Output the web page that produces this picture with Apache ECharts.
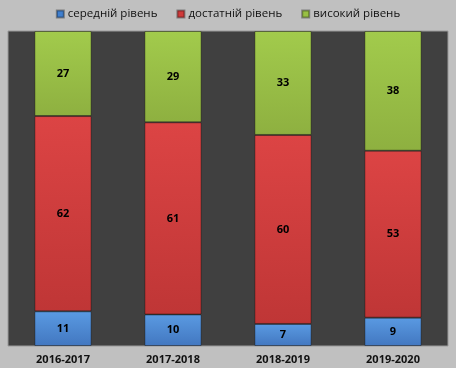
<!DOCTYPE html>
<html><head><meta charset="utf-8">
<script src="https://cdn.jsdelivr.net/npm/echarts@6/dist/echarts.min.js"></script>
<style>html,body{margin:0;padding:0;background:#c0c0c0}#c{width:456px;height:368px}</style>
</head><body><div id="c"></div>
<script>
const categories = ['2016-2017','2017-2018','2018-2019','2019-2020'];
const seriesNames = ['середній рівень','достатній рівень','високий рівень'];
const serednii = [11,10,7,9];
const dostatnii = [62,61,60,53];
const vysokyi = [27,29,33,38];

function grad(top, bottom){
  return new echarts.graphic.LinearGradient(0,0,0,1,[{offset:0,color:top},{offset:1,color:bottom}]);
}
const styles = [
  {color: grad('#5a9ae2','#4277c0'), legend:'#3f7fcf'},
  {color: grad('#dc4444','#bf3636'), legend:'#d03a3a'},
  {color: grad('#a2cb4c','#8eb040'), legend:'#98c044'}
];
const data = [serednii, dostatnii, vysokyi];
const chart = echarts.init(document.getElementById('c'));
chart.setOption({
  backgroundColor:'#c0c0c0',
  animation:false,
  legend:{
    top:3, left:'center', itemWidth:7, itemHeight:7, itemGap:19, icon:'rect',
    textStyle:{fontFamily:'Open Sans', fontSize:11.5, color:'#111', padding:[0,0,0,-1]},
    data: seriesNames.map((n,i)=>({name:n, itemStyle:{color:styles[i].legend}}))
  },
  grid:{left:8, right:8, top:31, bottom:22, show:true, backgroundColor:'#404040', borderWidth:1, borderColor:'#9a9a9a'},
  xAxis:{type:'category', data:categories, axisLine:{show:false}, axisTick:{show:false},
    axisLabel:{fontFamily:'Open Sans', fontWeight:'bold', fontSize:11, color:'#111', margin:8}},
  yAxis:{type:'value', min:0, max:100, show:false, splitLine:{show:false}},
  series: data.map((d,i)=>({
    name: seriesNames[i], type:'bar', stack:'a', barWidth:'52%', data:d,
    itemStyle:{color:styles[i].color, borderColor:'rgba(0,0,0,0.35)', borderWidth:1},
    label:{show:true, position:'inside', fontFamily:'Open Sans', fontWeight:'bold', fontSize:11, color:'#000'}
  }))
});
</script></body></html>
